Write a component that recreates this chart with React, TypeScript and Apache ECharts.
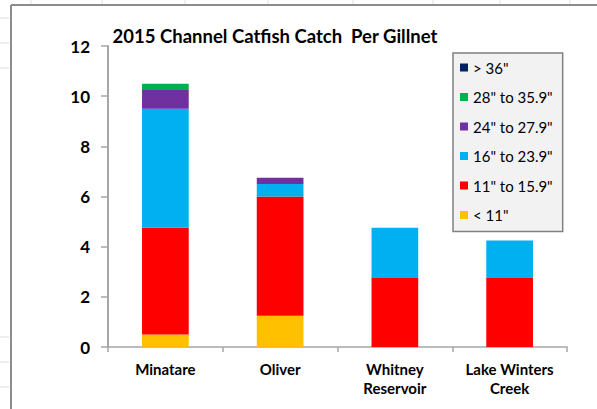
import React, { useEffect, useRef } from "react";
import * as echarts from "echarts";

const categories = ["Minatare", "Oliver", "Whitney\nReservoir", "Lake Winters\nCreek"];
const seriesNames = ['< 11"', '11" to 15.9"', '16" to 23.9"', '24" to 27.9"', '28" to 35.9"', '> 36"'];
const under11 = [0.5, 1.25, 0, 0];
const from11to15 = [4.25, 4.75, 2.75, 2.75];
const from16to23 = [4.75, 0.5, 2.0, 1.5];
const from24to27 = [0.75, 0.25, 0, 0];
const from28to35 = [0.25, 0, 0, 0];
const over36 = [0, 0, 0, 0];
const seriesValues = [under11, from11to15, from16to23, from24to27, from28to35, over36];
const colors = ["#FFC000", "#FF0000", "#00B0F0", "#7030A0", "#00B050", "#002060"];
const legendOrder = [...seriesNames].reverse();

export default function App() {
  const ref = useRef<HTMLDivElement>(null);
  useEffect(() => {
    const chart = echarts.init(ref.current!, null, { renderer: "svg" });
    const font = "Lato, 'Open Sans', sans-serif";
    chart.setOption({
      animation: false,
      backgroundColor: "#ffffff",
      title: {
        text: "2015 Channel Catfish Catch  Per Gillnet",
        left: 270,
        textAlign: "center",
        top: 21,
        textStyle: { fontFamily: font, fontWeight: "bold", fontSize: 18.5, color: "#000" },
      },
      legend: {
        orient: "vertical",
        left: 453,
        top: 53,
        width: 111,
        data: legendOrder,
        itemWidth: 8,
        itemHeight: 8,
        itemGap: 14.5,
        padding: [7, 10, 9, 7],
        backgroundColor: "#f2f2f2",
        borderColor: "#808080",
        borderWidth: 1.5,
        icon: "rect",
        textStyle: { fontFamily: font, fontSize: 15, lineHeight: 15, color: "#000", padding: [0, 0, 0, 0] },
      },
      grid: { left: 108, top: 46, right: 30, bottom: 62, containLabel: false },
      xAxis: {
        type: "category",
        data: categories,
        axisLine: { lineStyle: { color: "#a6a6a6", width: 1.5 } },
        axisTick: { show: true, length: 5, lineStyle: { color: "#a6a6a6", width: 1.5 } },
        axisLabel: {
          fontFamily: font,
          fontWeight: "bold",
          fontSize: 15,
          color: "#000",
          margin: 12,
          lineHeight: 19,
          interval: 0,
        },
      },
      yAxis: {
        type: "value",
        min: 0,
        max: 12,
        interval: 2,
        axisLine: { show: true, lineStyle: { color: "#a6a6a6", width: 2 } },
        axisTick: { show: true, length: 7, lineStyle: { color: "#a6a6a6", width: 1.5 } },
        axisLabel: { fontFamily: font, fontWeight: "bold", fontSize: 17, color: "#000", margin: 18 },
        splitLine: {
          lineStyle: {
            color: "#8a8a8a",
            width: 1.5,
            shadowColor: "rgba(0,0,0,0.12)",
            shadowBlur: 4,
            shadowOffsetY: 3,
          },
        },
      },
      series: seriesNames.map((name, i) => ({
        name,
        type: "bar",
        stack: "total",
        data: seriesValues[i],
        barWidth: "40.7%",
        itemStyle: { color: colors[i] },
      })),
      graphic: [
        { type: "line", shape: { x1: 11, y1: 5, x2: 11, y2: 409 }, style: { stroke: "#8c8c8c", lineWidth: 2 } },
        { type: "line", shape: { x1: 11, y1: 5, x2: 597, y2: 5 }, style: { stroke: "#8c8c8c", lineWidth: 2 } },
        ...[18, 43, 68, 337, 362, 387].map((y) => ({
          type: "line",
          shape: { x1: 0, y1: y, x2: 9, y2: y },
          style: { stroke: "#dddddd", lineWidth: 1 },
        })),
        ...[31, 102, 185, 268, 353, 433, 500, 570].map((x) => ({
          type: "line",
          shape: { x1: x, y1: 0, x2: x, y2: 4 },
          style: { stroke: "#dddddd", lineWidth: 1 },
        })),
      ],
    });
    return () => chart.dispose();
  }, []);
  return (
    <div
      ref={ref}
      style={{ position: "fixed", left: 0, top: 0, width: 597, height: 409 }}
    />
  );
}
